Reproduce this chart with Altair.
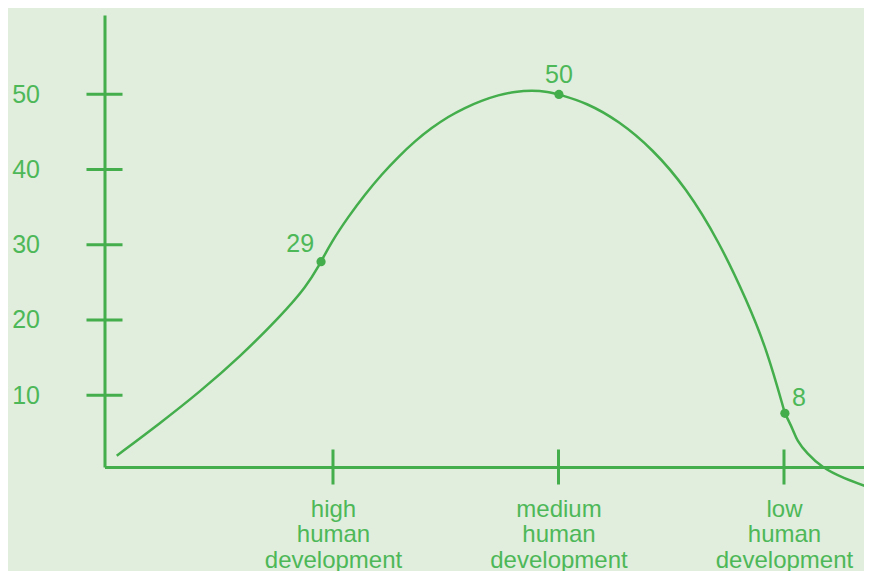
import altair as alt
import pandas as pd

# ---- data (three drawn stretches of the curve) ----
segA_x = [0.041, 0.233, 0.410, 0.588, 0.765, 0.883, 0.947]
segA_y = [1.97, 6.27, 10.47, 15.12, 20.44, 24.43, 27.75]

segB_x = [0.947, 0.994, 1.068, 1.142, 1.216, 1.290, 1.364, 1.438, 1.511, 1.585,
          1.659, 1.733, 1.807, 1.881, 1.955, 2.002, 2.122, 2.268, 2.417, 2.565,
          2.712, 2.834, 2.925, 3.004]
segB_y = [27.75, 30.41, 33.73, 36.70, 39.36, 41.70, 43.79, 45.55, 47.02, 48.21,
          49.14, 49.90, 50.34, 50.53, 50.34, 49.97, 48.90, 46.45, 42.72, 37.61,
          30.43, 22.66, 16.00, 7.60]

segC_x = [3.004, 3.041, 3.056, 3.101, 3.167, 3.263, 3.390]
segC_y = [7.60, 5.38, 4.05, 2.29, 0.43, -1.04, -2.37]

dot_x = [0.947, 2.002, 3.004]
dot_y = [27.75, 49.97, 7.60]
dot_labels = ["29", "50", "8"]

x_pos = [1, 2, 3]
x_cats = ["high human development", "medium human development", "low human development"]
y_ticks = [10, 20, 30, 40, 50]

# ---- style ----
X_MIN, X_MAX = -0.0133, 3.3548
Y_MIN, Y_MAX = 0.465, 60.53
GREEN = "#43ae4b"
TEXT = "#4db858"
BG = "#e1eddd"
FONT = "Liberation Sans"

xs = alt.Scale(domain=[X_MIN, X_MAX], nice=False, zero=False)
ys = alt.Scale(domain=[Y_MIN, Y_MAX], nice=False, zero=False)

expr = " : ".join(f"datum.value == {p} ? '{c}'" for p, c in zip(x_pos, x_cats)) + " : ''"
label_expr = f"split(({expr}), ' ')"

curve_df = pd.concat([
    pd.DataFrame({"x": segA_x, "y": segA_y, "seg": "A"}),
    pd.DataFrame({"x": segB_x, "y": segB_y, "seg": "B"}),
    pd.DataFrame({"x": segC_x, "y": segC_y, "seg": "C"}),
], ignore_index=True)
dots_df = pd.DataFrame({"x": dot_x, "y": dot_y, "label": dot_labels})
ytick_df = pd.DataFrame({"x": [X_MIN] * len(y_ticks), "y": y_ticks})
xtick_df = pd.DataFrame({"x": x_pos, "y": [Y_MIN] * len(x_pos)})

x_axis = alt.Axis(values=x_pos, labelExpr=label_expr, title=None, grid=False,
                  domainColor=GREEN, domainWidth=3, ticks=False, tickSize=0,
                  labelPadding=30, labelFont=FONT, labelFontSize=24, labelColor=TEXT,
                  labelLineHeight=25.5, labelBaseline="top", labelAlign="center",
                  labelFlush=False, labelOverlap=False)
y_axis = alt.Axis(values=y_ticks, title=None, grid=False, domainColor=GREEN,
                  domainWidth=3, ticks=False, tickSize=0, labelPadding=65,
                  labelFont=FONT, labelFontSize=25, labelColor=TEXT,
                  labelFlush=False, labelOverlap=False)

X = alt.X("x:Q", scale=xs, axis=x_axis)
Y = alt.Y("y:Q", scale=ys, axis=y_axis)
Xp = alt.X("x:Q", scale=xs)
Yp = alt.Y("y:Q", scale=ys)

line = alt.Chart(curve_df).mark_line(interpolate="basis", clip=False, color=GREEN,
                                     strokeWidth=2.5).encode(x=X, y=Y, detail="seg:N")

yticks = alt.Chart(ytick_df).mark_tick(orient="horizontal", size=36, thickness=3,
                                       color=GREEN, opacity=1).encode(x=Xp, y=Yp)
xticks = alt.Chart(xtick_df).mark_tick(orient="vertical", size=35, thickness=3,
                                       color=GREEN, opacity=1).encode(x=Xp, y=Yp)

dots = alt.Chart(dots_df).mark_circle(size=85, color=GREEN, opacity=1).encode(x=Xp, y=Yp)

lab29 = alt.Chart(dots_df.iloc[[0]]).mark_text(font=FONT, fontSize=25, color=TEXT,
                                               align="right", baseline="alphabetic",
                                               dx=-7, dy=-10).encode(x=Xp, y=Yp, text="label:N")
lab50 = alt.Chart(dots_df.iloc[[1]]).mark_text(font=FONT, fontSize=25, color=TEXT,
                                               align="center", baseline="alphabetic",
                                               dx=0, dy=-11).encode(x=Xp, y=Yp, text="label:N")
lab8 = alt.Chart(dots_df.iloc[[2]]).mark_text(font=FONT, fontSize=25, color=TEXT,
                                              align="left", baseline="alphabetic",
                                              dx=7, dy=-7).encode(x=Xp, y=Yp, text="label:N")

chart = alt.layer(line, yticks, xticks, dots, lab29, lab50, lab8).properties(
    width=759.5, height=452,
    padding={"left": 96.5, "top": 7, "right": 0, "bottom": 104},
    autosize=alt.AutoSizeParams(type="none"),
    background=BG,
).configure_view(stroke=None)

chart.save("out.html", embed_options={"renderer": "svg", "actions": False})
